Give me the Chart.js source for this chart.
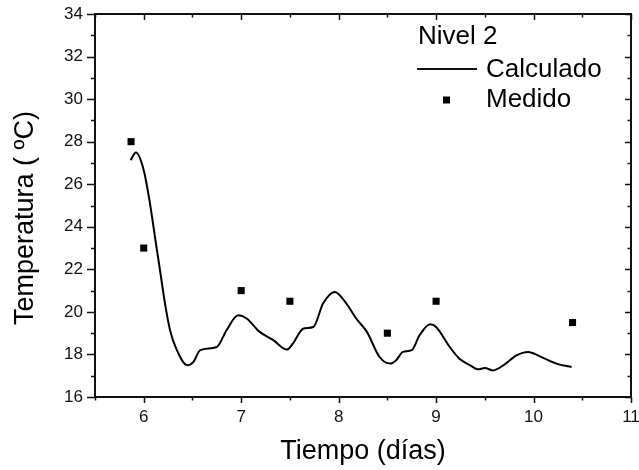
<!DOCTYPE html>
<html>
<head>
<meta charset="utf-8">
<script src="https://cdn.jsdelivr.net/npm/chart.js@4.4.1/dist/chart.umd.min.js"></script>
<style>
    body { margin: 0; background: #fff; }
    canvas { display: block; }
</style>
</head>
<body>
<canvas id="chart" width="639" height="470"></canvas>
<script>
// Calculado (curva)
const calcX = [5.866, 5.92, 6.0, 6.064, 6.115, 6.167, 6.218, 6.27, 6.34, 6.447, 6.51, 6.58, 6.75, 6.85, 6.97, 7.056, 7.19, 7.33, 7.47, 7.53, 7.64, 7.74, 7.84, 7.96, 8.08, 8.18, 8.29, 8.42, 8.53, 8.59, 8.66, 8.75, 8.83, 8.94, 9.0, 9.14, 9.24, 9.35, 9.43, 9.5, 9.585, 9.69, 9.825, 9.945, 10.065, 10.235, 10.39];
const calcY = [27.13, 27.49, 26.66, 25.1, 23.53, 21.96, 20.4, 19.14, 18.2, 17.49, 17.65, 18.2, 18.35, 19.14, 19.84, 19.69, 19.06, 18.67, 18.23, 18.51, 19.22, 19.29, 20.39, 20.94, 20.39, 19.69, 19.06, 17.88, 17.57, 17.73, 18.12, 18.2, 18.9, 19.42, 19.29, 18.35, 17.8, 17.49, 17.3, 17.36, 17.25, 17.49, 17.96, 18.12, 17.91, 17.57, 17.41];

// Medido (puntos)
const medX = [5.87, 6.0, 7.0, 7.5, 8.5, 9.0, 10.4];
const medY = [28, 23, 21, 20.5, 19, 20.5, 19.5];

const xTicks = [6, 7, 8, 9, 10, 11];
const yTicks = [16, 18, 20, 22, 24, 26, 28, 30, 32, 34];

const legendTitle = 'Nivel 2';
const yTitle = 'Temperatura ( ºC)';
const FONT = '"Liberation Sans", Arial, sans-serif';

// marcas de los ejes (afuera abajo/izquierda, adentro arriba/derecha), marco y leyenda
const frame = {
    id: 'frame',
    afterDraw(chart) {
        const ctx = chart.ctx;
        const { left, right, top, bottom } = chart.chartArea;
        const sx = chart.scales.x, sy = chart.scales.y;
        ctx.save();
        ctx.strokeStyle = '#111';
        ctx.lineWidth = 1.5;
        ctx.beginPath();
        for (let v = sx.min; v <= sx.max + 1e-9; v += 0.5) {
            const px = Math.round(sx.getPixelForValue(v)) + 0.5;
            const major = Math.abs(v - Math.round(v)) < 1e-9;
            const len = major ? 6 : 3.5;
            ctx.moveTo(px, bottom); ctx.lineTo(px, bottom + len);
            ctx.moveTo(px, top); ctx.lineTo(px, top + len);
        }
        for (let v = sy.min; v <= sy.max + 1e-9; v += 1) {
            const py = Math.round(sy.getPixelForValue(v)) + 0.5;
            const major = v % 2 === 0;
            ctx.moveTo(left, py); ctx.lineTo(left - (major ? 8 : 4), py);
            ctx.moveTo(right, py); ctx.lineTo(right - (major ? 6 : 3.5), py);
        }
        ctx.stroke();
        ctx.lineWidth = 2;
        ctx.strokeRect(left, top, right - left, bottom - top);

        // titulo eje y
        ctx.fillStyle = '#000';
        ctx.font = '27px ' + FONT;
        ctx.textAlign = 'center';
        ctx.textBaseline = 'middle';
        ctx.translate(26, 218);
        ctx.rotate(-Math.PI / 2);
        ctx.fillText(yTitle, 0, 0);
        ctx.setTransform(1, 0, 0, 1, 0, 0);

        // leyenda
        const ds = chart.data.datasets;
        ctx.font = '26px ' + FONT;
        ctx.textBaseline = 'alphabetic';
        ctx.textAlign = 'left';
        ctx.fillText(legendTitle, 418, 43.5);
        ctx.fillText(ds[0].label, 486, 77);
        ctx.fillText(ds[1].label, 486, 106.5);
        ctx.lineWidth = 2;
        ctx.beginPath();
        ctx.moveTo(417, 69); ctx.lineTo(477, 69);
        ctx.stroke();
        ctx.fillRect(443, 96.5, 7, 7);
        ctx.restore();
    }
};

new Chart(document.getElementById('chart'), {
    type: 'scatter',
    data: {
        datasets: [
            {
                label: 'Calculado',
                data: calcX.map((x, i) => ({ x: x, y: calcY[i] })),
                showLine: true,
                borderColor: '#000',
                borderWidth: 2,
                pointRadius: 0,
                cubicInterpolationMode: 'monotone'
            },
            {
                label: 'Medido',
                data: medX.map((x, i) => ({ x: x, y: medY[i] })),
                showLine: false,
                pointStyle: 'rect',
                pointRadius: 5,
                borderWidth: 0,
                backgroundColor: '#000'
            }
        ]
    },
    options: {
        responsive: false,
        animation: false,
        layout: { padding: { top: 14, right: 0, left: 0, bottom: 0 } },
        plugins: { legend: { display: false }, tooltip: { enabled: false } },
        scales: {
            x: {
                type: 'linear',
                min: 5.5,
                max: 11,
                afterBuildTicks: s => { s.ticks = xTicks.map(v => ({ value: v })); },
                afterFit: s => { s.height = 73; s.paddingRight = 8; s.paddingLeft = 0; },
                grid: { display: false, drawTicks: false },
                border: { display: false },
                ticks: { color: '#111', padding: 10, font: { family: FONT, size: 17 }, maxRotation: 0 },
                title: { display: true, text: 'Tiempo (días)', color: '#000', font: { family: FONT, size: 27, lineHeight: 1 }, padding: { bottom: 5 } }
            },
            y: {
                min: 16,
                max: 34,
                afterBuildTicks: s => { s.ticks = yTicks.map(v => ({ value: v })); },
                afterFit: s => { s.width = 95; s.paddingTop = 0; s.paddingBottom = 0; },
                grid: { display: false, drawTicks: false },
                border: { display: false },
                ticks: { color: '#111', padding: 12, font: { family: FONT, size: 17 } }
            }
        }
    },
    plugins: [frame]
});
</script>
</body>
</html>
